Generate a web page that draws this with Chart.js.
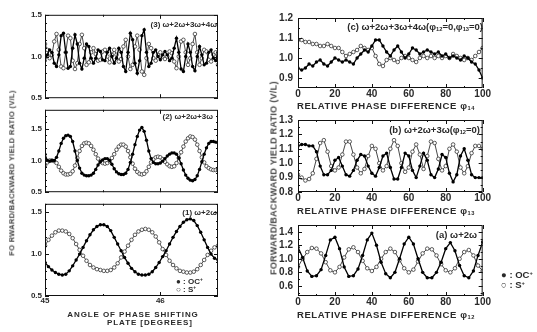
<!DOCTYPE html>
<html>
<head>
<meta charset="utf-8">
<script src="https://cdn.jsdelivr.net/npm/chart.js@4.4.1/dist/chart.umd.min.js"></script>
<style>
  body { margin: 0; background: #fff; }
  #fig { position: relative; width: 537px; height: 332px; overflow: hidden; font-family: "Liberation Sans", Arial, sans-serif; color: #2a2a2a; font-weight: bold; }
  #fig canvas { position: absolute; }
  .lbl { position: absolute; white-space: nowrap; line-height: 1; }
  .ctr { transform: translateX(-50%); }
  .ytitle { position: absolute; white-space: nowrap; line-height: 1; transform: translate(-50%, -50%) rotate(-90deg); color: #444; }
  sub { font-size: 60%; vertical-align: -1px; line-height: 0; }
  sup { font-size: 60%; vertical-align: 3px; line-height: 0; }
</style>
</head>
<body>
<div id="fig">
  <canvas id="left3"></canvas>
  <canvas id="left2"></canvas>
  <canvas id="left1"></canvas>
  <canvas id="rightC"></canvas>
  <canvas id="rightB"></canvas>
  <canvas id="rightA"></canvas>

  <div class="ytitle" style="left:12px;top:173px;font-size:7.5px;letter-spacing:0.3px">FO RWARD/BACKWARD YIELD RATIO (V/L)</div>
  <div class="ytitle" style="left:274px;top:178px;font-size:9px;letter-spacing:0.3px">FORWARD/BACKWARD YIELD RATIO (V/L)</div>

  <div class="lbl" style="right:320px;top:21px;font-size:8px">(3) ω+2ω+3ω+4ω</div>
  <div class="lbl" style="right:324px;top:113px;font-size:8px">(2) ω+2ω+3ω</div>
  <div class="lbl" style="right:320px;top:209px;font-size:8px">(1) ω+2ω</div>
  <div class="lbl" style="right:54px;top:22px;font-size:9.5px">(c) ω+2ω+3ω+4ω(φ<sub>12</sub>=0,φ<sub>13</sub>=0)</div>
  <div class="lbl" style="right:57px;top:125px;font-size:9.5px">(b) ω+2ω+3ω(φ<sub>12</sub>=0)</div>
  <div class="lbl" style="right:60px;top:230px;font-size:9.5px">(a) ω+2ω</div>

  <div class="lbl" style="left:176px;top:278px;font-size:8px">● : OC<sup>+</sup></div>
  <div class="lbl" style="left:176px;top:286px;font-size:8px">○ : S<sup>+</sup></div>
  <div class="lbl" style="left:501px;top:270px;font-size:9.5px">● : OC<sup>+</sup></div>
  <div class="lbl" style="left:501px;top:280px;font-size:9.5px">○ : S<sup>+</sup></div>

  <div class="lbl ctr" style="left:133px;top:311px;font-size:8px;letter-spacing:0.9px">ANGLE OF PHASE SHIFTING</div>
  <div class="lbl ctr" style="left:150px;top:319px;font-size:8px;letter-spacing:0.9px">PLATE [DEGREES]</div>
  <div class="lbl ctr" style="left:386px;top:101px;font-size:9.5px;letter-spacing:0.6px">RELATIVE PHASE DIFFERENCE φ<sub>14</sub></div>
  <div class="lbl ctr" style="left:386px;top:206px;font-size:9.5px;letter-spacing:0.6px">RELATIVE PHASE DIFFERENCE φ<sub>13</sub></div>
  <div class="lbl ctr" style="left:386px;top:310px;font-size:9.5px;letter-spacing:0.6px">RELATIVE PHASE DIFFERENCE φ<sub>12</sub></div>
</div>

<script>
// angle of phase shifting plate (degrees)
const angleFine = [45.00,45.02,45.04,45.06,45.08,45.10,45.12,45.14,45.16,45.18,
  45.20,45.22,45.24,45.26,45.28,45.30,45.32,45.34,45.36,45.38,
  45.40,45.42,45.44,45.46,45.48,45.50,45.52,45.54,45.56,45.58,
  45.60,45.62,45.64,45.66,45.68,45.70,45.72,45.74,45.76,45.78,
  45.80,45.82,45.84,45.86,45.88,45.90,45.92,45.94,45.96,45.98,
  46.00,46.02,46.04,46.06,46.08,46.10,46.12,46.14,46.16,46.18,
  46.20,46.22,46.24,46.26,46.28,46.30,46.32,46.34,46.36,46.38,
  46.40,46.42,46.44,46.46,46.48,46.50];
const angleCoarse = [45.00,45.03,45.06,45.09,45.12,45.15,45.18,45.21,45.24,45.27,
  45.30,45.33,45.36,45.39,45.42,45.45,45.48,45.51,45.54,45.57,
  45.60,45.63,45.66,45.69,45.72,45.75,45.78,45.81,45.84,45.87,
  45.90,45.93,45.96,45.99,46.02,46.05,46.08,46.11,46.14,46.17,
  46.20,46.23,46.26,46.29,46.32,46.35,46.38,46.41,46.44,46.47,46.50];

// relative phase difference
const phaseStep2 = [0,2,4,6,8,10,12,14,16,18,20,22,24,26,28,30,32,34,36,38,
  40,42,44,46,48,50,52,54,56,58,60,62,64,66,68,70,72,74,76,78,
  80,82,84,86,88,90,92,94,96,98,100];
const phaseA = [0,2.5,5,7.5,10,12.5,15,17.5,20,22.5,25,27.5,30,32.5,35,37.5,
  40,42.5,45,47.5,50,52.5,55,57.5,60,62.5,65,67.5,70,72.5,75,77.5,
  80,82.5,85,87.5,90,92.5,95,97.5,100];

// (3) w+2w+3w+4w
const oc3 = [0.95,1.02,1.08,1.05,0.92,0.88,1.02,1.25,1.28,1.05,
  0.86,0.88,1.1,1.26,1.15,0.92,0.85,0.98,1.15,1.12,
  0.98,0.92,0.98,1.08,1.06,0.96,0.95,1.05,1.1,1.0,
  0.92,0.98,1.1,1.05,0.88,0.82,1.05,1.28,1.2,0.92,
  0.8,0.95,1.25,1.32,1.05,0.88,0.92,1.05,1.08,1.0,
  0.96,1.02,1.06,1.02,0.95,0.98,1.1,1.22,1.05,0.85,
  0.82,1.0,1.15,1.05,0.88,0.83,1.0,1.12,1.02,0.9,
  0.92,1.05,1.08,0.98,0.95,1.05];
const s3 = [1.15,1.08,0.98,1.02,1.18,1.27,1.08,0.88,0.86,1.05,
  1.25,1.22,0.95,0.85,0.92,1.15,1.26,1.1,0.9,0.93,
  1.05,1.1,1.03,0.95,0.96,1.06,1.08,1.0,0.93,1.02,
  1.08,1.02,0.94,0.97,1.12,1.2,1.0,0.85,0.9,1.12,
  1.25,1.08,0.82,0.78,0.98,1.15,1.1,0.98,0.95,1.02,
  1.05,1.0,0.97,1.0,1.06,1.04,0.94,0.86,1.0,1.18,
  1.2,1.05,0.9,0.98,1.15,1.27,1.05,0.9,0.98,1.08,
  1.06,0.96,0.94,1.02,1.05,0.9];

// (2) w+2w+3w
const oc2 = [1.1,1.0,0.99,1.0,1.0,1.05,1.15,1.27,1.35,1.39,
  1.4,1.38,1.3,1.15,1.0,0.88,0.8,0.77,0.76,0.76,
  0.77,0.8,0.86,0.93,0.98,1.01,1.03,1.03,1.0,0.94,
  0.87,0.82,0.79,0.78,0.78,0.8,0.86,0.97,1.1,1.25,
  1.38,1.48,1.52,1.46,1.32,1.15,1.03,0.97,0.95,0.95,
  0.96,0.99,1.03,1.07,1.1,1.12,1.12,1.1,1.04,0.95,
  0.85,0.77,0.72,0.69,0.68,0.7,0.76,0.86,0.98,1.1,
  1.2,1.27,1.3,1.3,1.29,1.28];
const s2 = [0.92,0.97,1.0,1.0,0.99,0.96,0.9,0.84,0.8,0.78,
  0.78,0.79,0.83,0.92,1.04,1.15,1.23,1.27,1.28,1.27,
  1.23,1.17,1.1,1.03,0.98,0.96,0.95,0.96,0.99,1.04,
  1.1,1.17,1.22,1.25,1.25,1.22,1.15,1.05,0.95,0.87,
  0.82,0.79,0.78,0.79,0.83,0.9,0.97,1.02,1.05,1.06,
  1.05,1.02,0.98,0.94,0.91,0.9,0.91,0.96,1.04,1.13,
  1.22,1.3,1.35,1.38,1.37,1.33,1.25,1.15,1.05,0.97,
  0.91,0.88,0.86,0.85,0.85,0.85];

// (1) w+2w
const oc1 = [0.9,0.85,0.81,0.78,0.76,0.75,0.76,0.8,0.86,0.93,
  1.0,1.08,1.16,1.23,1.29,1.33,1.35,1.35,1.33,1.28,
  1.2,1.12,1.04,0.96,0.89,0.83,0.79,0.76,0.75,0.75,
  0.76,0.79,0.84,0.9,0.97,1.04,1.12,1.2,1.27,1.33,
  1.38,1.41,1.42,1.4,1.34,1.26,1.17,1.08,1.0,0.95,0.93];
const s1 = [1.1,1.17,1.22,1.26,1.28,1.28,1.27,1.24,1.19,1.12,
  1.05,0.98,0.92,0.87,0.84,0.82,0.81,0.8,0.8,0.81,
  0.84,0.89,0.96,1.03,1.1,1.17,1.23,1.27,1.29,1.3,
  1.29,1.26,1.21,1.14,1.06,0.99,0.92,0.87,0.83,0.8,
  0.79,0.78,0.78,0.79,0.82,0.87,0.93,0.99,1.04,1.08,1.1];

// (c) w+2w+3w+4w vs phi14
const ocC = [0.95,0.94,0.95,0.97,0.96,0.98,0.99,0.97,0.96,0.98,
  1.0,0.99,0.98,0.99,0.98,0.97,1.0,1.02,1.04,1.03,
  1.06,1.09,1.09,1.06,1.03,1.01,1.04,1.06,1.03,1.0,
  1.02,1.05,1.04,1.02,1.03,1.04,1.03,1.02,1.03,1.01,
  1.02,1.0,1.01,1.0,0.99,1.01,1.0,0.98,0.97,0.94,0.9];
const sC = [1.09,1.09,1.08,1.08,1.07,1.07,1.06,1.06,1.07,1.06,
  1.05,1.05,1.03,1.01,1.02,1.03,1.04,1.06,1.05,1.04,
  1.05,1.01,0.97,0.96,0.99,1.0,0.99,0.98,1.0,1.01,
  1.0,0.99,0.98,1.0,1.01,1.0,1.01,1.0,1.01,1.0,
  1.01,1.0,1.02,1.01,1.0,0.99,1.0,0.99,1.01,1.03,1.05];

// (b) w+2w+3w vs phi13
const ocB = [1.12,1.13,1.13,1.12,1.12,1.08,0.98,0.92,0.92,0.95,
  1.02,1.04,0.98,0.92,0.91,0.95,1.02,1.06,1.05,0.98,
  0.93,0.91,0.97,1.05,1.07,0.97,0.89,0.89,0.97,1.07,
  1.05,0.95,0.9,0.98,1.07,1.02,0.92,0.9,0.96,1.06,
  1.04,0.93,0.87,0.92,1.05,1.1,1.02,0.92,0.9,0.9,0.9];
const sB = [0.92,0.9,0.88,0.89,0.93,1.03,1.14,1.16,1.08,0.98,
  0.95,0.97,1.06,1.15,1.15,1.06,0.97,0.93,0.96,1.05,
  1.12,1.1,1.0,0.95,0.98,1.1,1.16,1.12,1.0,0.94,
  0.97,1.08,1.13,1.06,0.96,1.05,1.15,1.14,1.03,0.95,
  0.98,1.1,1.13,1.08,0.97,0.93,0.98,1.07,1.12,1.12,1.1];

// (a) w+2w vs phi12
const ocA = [1.17,1.02,0.82,0.74,0.75,0.84,1.05,1.28,1.32,1.15,
  0.88,0.74,0.75,0.85,1.05,1.28,1.38,1.2,0.95,0.78,
  0.72,0.8,1.0,1.22,1.32,1.22,1.0,0.8,0.72,0.72,
  0.8,0.95,1.15,1.24,1.12,0.9,0.75,0.72,0.82,1.05,1.25];
const sA = [0.88,1.0,1.1,1.16,1.15,1.08,0.95,0.83,0.8,0.88,
  1.02,1.14,1.17,1.1,0.97,0.86,0.82,0.88,1.0,1.1,
  1.15,1.1,0.98,0.86,0.8,0.84,0.96,1.08,1.15,1.14,
  1.05,0.92,0.83,0.8,0.86,1.0,1.1,1.13,1.05,0.9,0.82];

// tick values
const leftYTicks = [0.5, 1.0, 1.5];
const leftYMinor = [0.6, 0.7, 0.8, 0.9, 1.1, 1.2, 1.3, 1.4, 1.6, 1.7];
const leftXTicks = [45, 46];
const leftXMinor = [45.5];
const phaseTicks = [0, 20, 40, 60, 80, 100];
const phaseMinor = [10, 30, 50, 70, 90];
const cYTicks = [0.9, 1.0, 1.1, 1.2];
const bYTicks = [0.8, 0.9, 1.0, 1.1, 1.2, 1.3];
const aYTicks = [0.6, 0.8, 1.0, 1.2, 1.4];
const aYMinor = [0.5, 0.7, 0.9, 1.1, 1.3];

// box frame + inward tick marks
const frameTicks = {
  id: 'frameTicks',
  afterDatasetsDraw(chart, args, o) {
    const { ctx, chartArea: a } = chart;
    const x = chart.scales.x, y = chart.scales.y;
    ctx.save();
    ctx.strokeStyle = '#111';
    ctx.lineWidth = 1;
    ctx.strokeRect(a.left + 0.5, a.top + 0.5, a.width - 1, a.height - 1);
    ctx.beginPath();
    const xt = (vals, len) => (vals || []).forEach(v => {
      const p = Math.round(x.getPixelForValue(v)) + 0.5;
      ctx.moveTo(p, a.bottom); ctx.lineTo(p, a.bottom - len);
      ctx.moveTo(p, a.top); ctx.lineTo(p, a.top + len);
    });
    const yt = (vals, len) => (vals || []).forEach(v => {
      const p = Math.round(y.getPixelForValue(v)) + 0.5;
      ctx.moveTo(a.left, p); ctx.lineTo(a.left + len, p);
      ctx.moveTo(a.right, p); ctx.lineTo(a.right - len, p);
    });
    xt(o.xMajor, 4); xt(o.xMinor, 2);
    yt(o.yMajor, 4); yt(o.yMinor, 2);
    ctx.stroke();
    ctx.restore();
  }
};

function pts(xs, ys) {
  return xs.map((v, i) => ({ x: v, y: ys[i] }));
}

function makePanel(id, p) {
  const canvas = document.getElementById(id);
  const padTop = 6, padRight = 6;
  const cLeft = p.box.left - p.yW;
  const cTop = p.box.top - padTop;
  canvas.width = p.box.right - cLeft + padRight;
  canvas.height = p.box.bottom + p.xH - cTop;
  canvas.style.left = cLeft + 'px';
  canvas.style.top = cTop + 'px';

  new Chart(canvas, {
    type: 'line',
    data: {
      datasets: [
        {
          label: 'OC+',
          data: pts(p.xs, p.oc),
          borderColor: '#000',
          borderWidth: 1.3,
          pointRadius: 1.7,
          pointBackgroundColor: '#000',
          pointBorderWidth: 0
        },
        {
          label: 'S+',
          data: pts(p.xs, p.s),
          borderColor: '#333',
          borderWidth: 0.9,
          pointRadius: 1.8,
          pointBackgroundColor: '#fff',
          pointBorderColor: '#333',
          pointBorderWidth: 0.8
        }
      ]
    },
    options: {
      responsive: false,
      animation: false,
      devicePixelRatio: 1,
      layout: { padding: { top: padTop, right: padRight, left: 0, bottom: 0 } },
      plugins: {
        legend: { display: false },
        tooltip: { enabled: false },
        frameTicks: { xMajor: p.xTicks, xMinor: p.xMinor, yMajor: p.yTicks, yMinor: p.yMinor }
      },
      scales: {
        x: {
          type: 'linear',
          min: p.xMin,
          max: p.xMax,
          grid: { display: false, drawTicks: false },
          border: { display: false },
          afterBuildTicks: s => { s.ticks = p.xTicks.map(v => ({ value: v })); },
          afterFit: s => { s.height = p.xH; },
          ticks: {
            display: p.xH > 0,
            autoSkip: false,
            maxRotation: 0,
            padding: 0,
            color: '#2a2a2a',
            font: { family: 'Liberation Sans', size: p.fontSize, weight: 'bold' },
            callback: v => String(v)
          }
        },
        y: {
          min: p.yMin,
          max: p.yMax,
          grid: { display: false, drawTicks: false },
          border: { display: false },
          afterBuildTicks: s => { s.ticks = p.yTicks.map(v => ({ value: v })); },
          afterFit: s => { s.width = p.yW; },
          ticks: {
            autoSkip: false,
            padding: p.yPad,
            color: '#2a2a2a',
            font: { family: 'Liberation Sans', size: p.fontSize, weight: 'bold' },
            callback: v => v.toFixed(1)
          }
        }
      }
    },
    plugins: [frameTicks]
  });
}

const leftBase = { yW: 40, yPad: 3, fontSize: 8, xMin: 45, xMax: 46.5, xTicks: leftXTicks, xMinor: leftXMinor, yTicks: leftYTicks, yMinor: leftYMinor };
makePanel('left3', Object.assign({}, leftBase, { box: { left: 45, right: 218, top: 13, bottom: 106 }, xH: 0, yMin: 0.5, yMax: 1.5, xs: angleFine, oc: oc3, s: s3 }));
makePanel('left2', Object.assign({}, leftBase, { box: { left: 45, right: 218, top: 108, bottom: 200 }, xH: 0, yMin: 0.5, yMax: 1.8, xs: angleFine, oc: oc2, s: s2 }));
makePanel('left1', Object.assign({}, leftBase, { box: { left: 45, right: 218, top: 202, bottom: 296 }, xH: 12, yMin: 0.5, yMax: 1.6, xs: angleCoarse, oc: oc1, s: s1 }));

const rightBase = { yW: 40, yPad: 5, fontSize: 10, xMin: 0, xMax: 100, xTicks: phaseTicks, xMinor: phaseMinor, xH: 12 };
makePanel('rightC', Object.assign({}, rightBase, { box: { left: 298, right: 485, top: 13, bottom: 88 }, yMin: 0.85, yMax: 1.2, yTicks: cYTicks, yMinor: [0.95, 1.05, 1.15], xs: phaseStep2, oc: ocC, s: sC }));
makePanel('rightB', Object.assign({}, rightBase, { box: { left: 298, right: 485, top: 115, bottom: 192 }, yMin: 0.8, yMax: 1.3, yTicks: bYTicks, yMinor: [0.85, 0.95, 1.05, 1.15, 1.25], xs: phaseStep2, oc: ocB, s: sB }));
makePanel('rightA', Object.assign({}, rightBase, { box: { left: 298, right: 485, top: 220, bottom: 296 }, yMin: 0.45, yMax: 1.5, yTicks: aYTicks, yMinor: aYMinor, xs: phaseA, oc: ocA, s: sA }));
</script>
</body>
</html>
